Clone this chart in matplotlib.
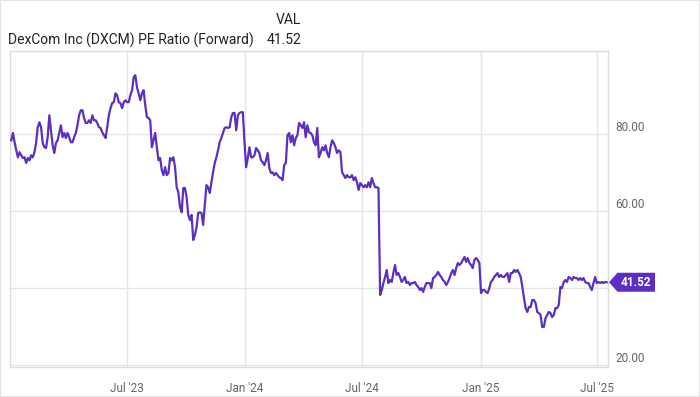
import numpy as np
import pandas as pd
import matplotlib
matplotlib.use("Agg")
import matplotlib.pyplot as plt
import matplotlib.dates as mdates
import matplotlib.transforms as mtransforms
from matplotlib.patches import Polygon, Rectangle

plt.rcParams['font.family'] = ['Roboto', 'DejaVu Sans']

title = "DexCom Inc (DXCM) PE Ratio (Forward)"
last_val = 41.52

# forward PE readings, roughly evenly spaced from early Jan 2023 to mid Jul 2025
start_date = "2023-01-03"
end_date = "2025-07-16"
pe_values = [
    78.4, 80.3, 77.9, 75.8, 74.0, 75.3, 74.5, 73.8, 74.0, 72.5, 73.8, 73.2, 74.5, 74.0,
    75.3, 77.7, 81.8, 83.1, 81.8, 77.7, 76.6, 76.4, 79.2, 84.9, 81.0, 77.1, 75.1, 77.7,
    78.4, 80.3, 82.3, 79.2, 80.3, 79.0, 80.3, 79.2, 77.9, 77.9, 79.2, 80.3, 82.3, 84.9,
    86.2, 86.2, 84.2, 82.9, 82.9, 83.6, 82.9, 84.9, 83.6, 83.6, 82.9, 81.8, 81.6, 80.5,
    79.7, 79.0, 81.8, 84.9, 86.75, 88.05, 88.3, 90.6, 90.1, 88.3, 88.05, 86.75, 88.3,
    88.8, 88.3, 88.3, 90.1, 91.4, 94.8, 95.3, 92.2, 90.6, 88.8, 90.6, 91.4, 87.5, 84.4,
    84.2, 83.6, 76.6, 78.4, 80.3, 76.6, 73.2, 73.8, 70.65, 69.35, 71.4, 69.35, 69.9,
    73.8, 73.2, 74.0, 71.4, 66.2, 64.9, 61.0, 59.7, 66.0, 66.0, 63.6, 59.0, 57.7, 59.0,
    52.5, 53.8, 55.8, 59.5, 59.7, 59.5, 56.4, 61.6, 66.75, 66.2, 64.7, 67.5, 70.1, 72.5,
    74.0, 75.8, 77.9, 79.0, 80.3, 81.6, 81.8, 81.6, 81.8, 84.4, 85.5, 85.5, 81.0, 84.9,
    85.5, 85.7, 85.7, 77.9, 71.4, 73.8, 76.6, 74.0, 74.0, 74.5, 76.4, 75.8, 75.1, 73.2,
    72.7, 71.95, 73.2, 75.1, 71.2, 69.9, 70.1, 69.35, 69.9, 69.35, 68.8, 68.6, 68.05,
    71.95, 72.5, 79.7, 80.3, 77.9, 79.7, 77.1, 79.0, 79.7, 82.9, 82.3, 81.6, 83.1, 79.2,
    82.3, 80.5, 80.3, 79.7, 77.9, 77.1, 81.6, 74.0, 75.1, 76.6, 75.8, 77.1, 75.1, 74.0,
    76.6, 78.4, 77.7, 76.6, 75.1, 75.8, 75.3, 70.1, 69.35, 68.6, 69.35, 68.8, 68.8,
    69.35, 68.05, 68.8, 67.5, 65.5, 67.3, 66.75, 66.2, 66.75, 66.2, 67.5, 66.2, 68.6,
    67.3, 66.2, 66.2, 66.0, 38.2, 39.5, 41.3, 42.9, 44.7, 41.3, 42.1, 41.6, 43.9, 46.0,
    43.4, 43.9, 42.9, 41.6, 42.1, 42.9, 41.3, 41.6, 40.8, 41.3, 41.3, 41.6, 40.8, 40.3,
    39.5, 40.0, 39.0, 40.3, 41.3, 41.3, 41.3, 40.0, 42.6, 42.9, 43.4, 44.2, 43.4, 42.9,
    42.1, 41.6, 40.8, 41.6, 42.6, 43.9, 44.7, 43.4, 45.2, 46.5, 46.0, 46.5, 47.3, 48.1,
    46.8, 47.8, 46.5, 46.0, 45.2, 47.3, 47.8, 47.3, 46.5, 38.7, 39.5, 39.5, 39.0, 38.7,
    40.0, 41.6, 42.1, 42.9, 43.4, 43.9, 42.9, 43.4, 42.9, 42.9, 43.4, 43.9, 41.6, 43.9,
    43.9, 44.7, 44.2, 44.7, 43.9, 42.9, 40.3, 37.4, 34.8, 33.8, 35.1, 35.1, 36.9, 36.9,
    36.1, 33.8, 33.5, 33.0, 29.9, 29.9, 32.2, 33.0, 33.8, 33.5, 32.5, 33.0, 34.8, 34.8,
    35.6, 40.3, 40.0, 41.6, 42.1, 41.6, 42.9, 42.6, 42.1, 42.9, 42.6, 42.6, 42.1, 42.6,
    42.1, 42.6, 41.6, 41.3, 41.3, 40.3, 39.5, 41.3, 42.9, 41.3, 41.6, 41.3, 41.6, 41.3,
    41.6, 41.52,
]
dates = pd.date_range(start_date, end_date, periods=len(pe_values))

x_ticks = pd.to_datetime(["2023-07-01", "2024-01-01", "2024-07-01", "2025-01-01", "2025-07-01"])
x_labels = ["Jul '23", "Jan '24", "Jul '24", "Jan '25", "Jul '25"]
y_ticks = [20, 40, 60, 80]
y_labels = ["20.00", "", "60.00", "80.00"]

line_color = "#5c2fc2"
grid_color = "#e6e6e6"
text_gray = "#666666"

fig = plt.figure(figsize=(7.0, 3.97), dpi=100)
ax = fig.add_axes([10 / 700, 1 - 367 / 397, 598 / 700, 316 / 397])

ax.plot(dates, pe_values, color=line_color, lw=1.6, solid_joinstyle="round", zorder=3)

ax.set_xlim(pd.Timestamp("2023-01-01"), pd.Timestamp("2025-07-18"))
ax.set_ylim(19.5, 101.6)

ax.set_xticks(x_ticks)
ax.set_xticklabels(x_labels)
ax.set_yticks(y_ticks)
ax.set_yticklabels([])
ax.tick_params(axis="both", length=0)
ax.tick_params(axis="x", pad=11, labelsize=8.5, labelcolor=text_gray)
ax.grid(True, color=grid_color, lw=1)
for s in ax.spines.values():
    s.set_color("#dcdcdc")
    s.set_linewidth(1)

# y labels sit to the right, slightly above their grid lines
ytrans = mtransforms.blended_transform_factory(ax.transAxes, ax.transData)
for v, lab in zip(y_ticks, y_labels):
    if lab:
        ax.text(1.0, v, lab, transform=ytrans + mtransforms.ScaledTranslation(5 / 72, 4.5 / 72, fig.dpi_scale_trans),
                ha="left", va="center", fontsize=8.5, color=text_gray)

# last value tag
tag_t = mtransforms.Affine2D() + mtransforms.ScaledTranslation(1.0, last_val, ytrans)
tag = Polygon([(1, 0), (9.5, 9.5), (47, 9.5), (47, -9.5), (9.5, -9.5)], closed=True,
              transform=tag_t, facecolor=line_color, edgecolor="none", clip_on=False, zorder=5)
ax.add_patch(tag)
ax.text(1.0, last_val, f"{last_val:.2f}", transform=ytrans + mtransforms.ScaledTranslation(20 / 72, 0, fig.dpi_scale_trans),
        ha="center", va="center", fontsize=8.5, fontweight="bold", color="white", zorder=6)

# header
fig.text(8 / 700, 1 - 40 / 397, title, ha="left", va="center", fontsize=10, color="#222222")
fig.text(301 / 700, 1 - 20 / 397, "VAL", ha="right", va="center", fontsize=10, color="#222222")
fig.text(301 / 700, 1 - 40 / 397, f"{last_val:.2f}", ha="right", va="center", fontsize=10, color="#222222")

fig.patches.append(Rectangle((0, 0), 1, 1, transform=fig.transFigure, fill=False,
                             edgecolor="#e3e3e3", lw=1.5))

fig.savefig("out.png", dpi=100)
